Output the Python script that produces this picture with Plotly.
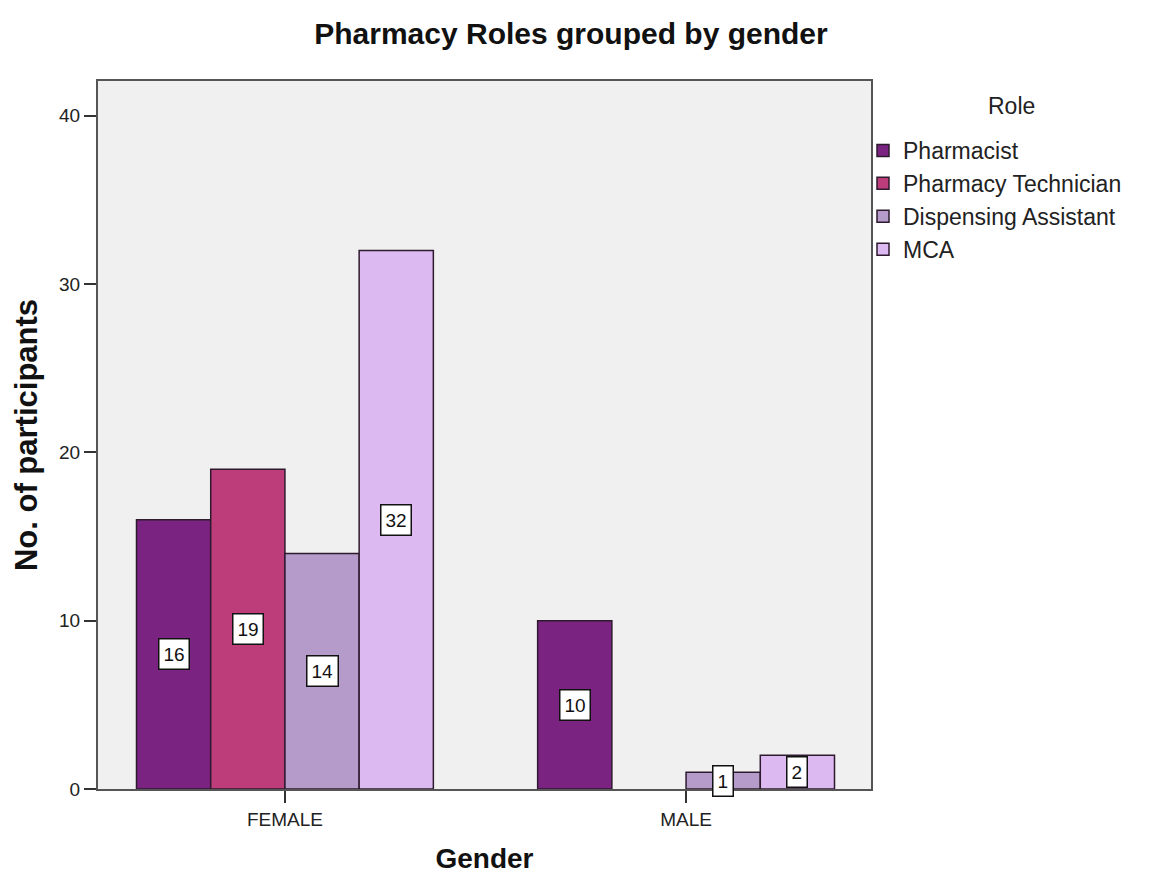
import plotly.graph_objects as go

# ---- data ----
genders = ["FEMALE", "MALE"]
roles = ["Pharmacist", "Pharmacy Technician", "Dispensing Assistant", "MCA"]
pharmacist = [16, 10]
pharmacy_technician = [19, 0]
dispensing_assistant = [14, 1]
mca = [32, 2]
y_ticks = [0, 10, 20, 30, 40]

series = [pharmacist, pharmacy_technician, dispensing_assistant, mca]
colors = ["#7B2381", "#BD3D7B", "#B59BC9", "#DDB9F1"]
outline = "#2E1A2E"
FONT = "Liberation Sans, Arial"

L, T, PW, PH = 90, 73, 773, 708

fig = go.Figure()
for name, vals, col in zip(roles, series, colors):
    fig.add_trace(go.Bar(
        x=genders, y=[v if v else None for v in vals], name=name,
        marker=dict(color=col, line=dict(color=outline, width=1.5)),
        hoverinfo="x+y+name",
    ))

bargap = 0.26
n = len(roles)
bw = (1 - bargap) / n
annotations = []
for i, vals in enumerate(series):
    off = (i - (n - 1) / 2) * bw
    for j, v in enumerate(vals):
        if not v:
            continue
        annotations.append(dict(
            x=j + off, y=v / 2, xref="x", yref="y", text=str(v), showarrow=False,
            font=dict(family=FONT, size=19, color="#111"),
            bgcolor="white", bordercolor="#111", borderwidth=1.5, borderpad=4,
        ))

# legend heading
annotations.append(dict(
    x=(1003 - L) / PW, y=1 - (98 - T) / PH, xref="paper", yref="paper", text="Role",
    showarrow=False, xanchor="center", yanchor="middle",
    font=dict(family=FONT, size=23, color="#222"),
))

fig.update_layout(
    width=1157, height=873,
    margin=dict(l=L, r=1157 - L - PW, t=T, b=873 - T - PH),
    paper_bgcolor="white", plot_bgcolor="#F0F0F0",
    barmode="group", bargap=bargap, bargroupgap=0,
    font=dict(family=FONT, size=19, color="#222"),
    title=dict(text="<b>Pharmacy Roles grouped by gender</b>", x=563 / 1157, xanchor="center",
               y=1 - 25 / 873, yanchor="middle", yref="container",
               font=dict(size=30, color="#111")),
    xaxis=dict(type="category", range=[-0.466, 1.461], showgrid=False,
               showline=True, linecolor="#555", linewidth=2, mirror=True,
               ticks="outside", ticklen=12, tickcolor="#333", tickwidth=2,
               tickfont=dict(size=19, color="#222"),
               title=dict(text="<b>Gender</b>", font=dict(size=28, color="#111"), standoff=20)),
    yaxis=dict(range=[0, 42.07], tickvals=y_ticks, showgrid=False, zeroline=False,
               showline=True, linecolor="#555", linewidth=2, mirror=True,
               ticks="outside", ticklen=12, tickcolor="#333", tickwidth=2,
               tickfont=dict(size=19, color="#222"),
               title=dict(text="<b>No. of participants</b>", font=dict(size=31, color="#111"), standoff=12)),
    legend=dict(x=(855 - L) / PW, y=1 - 48 / PH, xanchor="left", yanchor="top",
                font=dict(size=23, color="#222"), tracegroupgap=0, itemwidth=30,
                bgcolor="rgba(0,0,0,0)"),
    annotations=annotations,
    showlegend=True,
)

fig.write_html("out.html")
